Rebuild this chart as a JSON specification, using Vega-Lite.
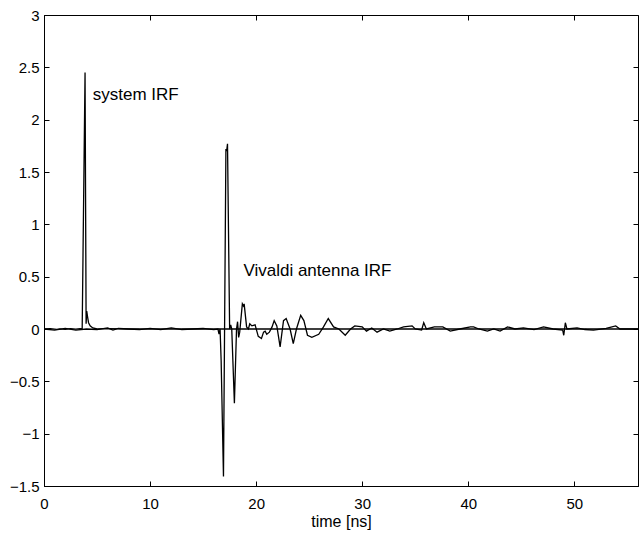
{
  "$schema": "https://vega.github.io/schema/vega-lite/v6.json",
  "autosize": "none",
  "width": 594,
  "height": 471,
  "padding": {"left": 44, "top": 15, "right": 1, "bottom": 49},
  "background": "white",
  "config": {
    "view": {"stroke": "black", "strokeWidth": 1},
    "font": "Liberation Sans",
    "axis": {
      "grid": false,
      "domainColor": "black",
      "tickColor": "black",
      "tickSize": -5,
      "labelColor": "black",
      "labelFont": "Liberation Sans",
      "labelFontSize": 15,
      "labelFlush": false,
      "titleFont": "Liberation Sans",
      "titleFontSize": 16,
      "titleFontWeight": "normal",
      "titleColor": "black",
      "format": "~f"
    }
  },
  "datasets": {
    "irf": [
      {"t": 0, "v": 0, "s": "system"},
      {"t": 0.6, "v": 0.003, "s": "system"},
      {"t": 1.2, "v": -0.004, "s": "system"},
      {"t": 1.5, "v": 0.002, "s": "system"},
      {"t": 2.0, "v": -0.003, "s": "system"},
      {"t": 2.5, "v": 0.004, "s": "system"},
      {"t": 3.0, "v": -0.002, "s": "system"},
      {"t": 3.4, "v": 0.003, "s": "system"},
      {"t": 3.6, "v": 0.0, "s": "system"},
      {"t": 3.87, "v": 2.45, "s": "system"},
      {"t": 3.97, "v": 0.05, "s": "system"},
      {"t": 4.03, "v": 0.17, "s": "system"},
      {"t": 4.1, "v": 0.12, "s": "system"},
      {"t": 4.2, "v": 0.06, "s": "system"},
      {"t": 4.35, "v": 0.03, "s": "system"},
      {"t": 4.6, "v": 0.01, "s": "system"},
      {"t": 5.0, "v": 0.0, "s": "system"},
      {"t": 6.0, "v": 0.004, "s": "system"},
      {"t": 8.0, "v": 0.0, "s": "system"},
      {"t": 10.0, "v": 0.0, "s": "system"},
      {"t": 20.0, "v": 0.0, "s": "system"},
      {"t": 30.0, "v": 0.0, "s": "system"},
      {"t": 40.0, "v": 0.0, "s": "system"},
      {"t": 50.0, "v": 0.0, "s": "system"},
      {"t": 56.0, "v": 0.0, "s": "system"},
      {"t": 0, "v": 0, "s": "vivaldi"},
      {"t": 1, "v": -0.01, "s": "vivaldi"},
      {"t": 2, "v": 0.005, "s": "vivaldi"},
      {"t": 3, "v": -0.01, "s": "vivaldi"},
      {"t": 4, "v": 0.0, "s": "vivaldi"},
      {"t": 5, "v": -0.005, "s": "vivaldi"},
      {"t": 6, "v": 0.01, "s": "vivaldi"},
      {"t": 6.5, "v": -0.01, "s": "vivaldi"},
      {"t": 7, "v": 0.005, "s": "vivaldi"},
      {"t": 8, "v": 0, "s": "vivaldi"},
      {"t": 9, "v": -0.005, "s": "vivaldi"},
      {"t": 10, "v": 0.005, "s": "vivaldi"},
      {"t": 11, "v": -0.005, "s": "vivaldi"},
      {"t": 12, "v": 0.01, "s": "vivaldi"},
      {"t": 13, "v": -0.005, "s": "vivaldi"},
      {"t": 14, "v": 0, "s": "vivaldi"},
      {"t": 15, "v": 0.005, "s": "vivaldi"},
      {"t": 16, "v": -0.005, "s": "vivaldi"},
      {"t": 16.4, "v": 0, "s": "vivaldi"},
      {"t": 16.5, "v": -0.05, "s": "vivaldi"},
      {"t": 16.6, "v": 0.0, "s": "vivaldi"},
      {"t": 16.7, "v": -0.3, "s": "vivaldi"},
      {"t": 16.92, "v": -1.41, "s": "vivaldi"},
      {"t": 17.15, "v": 1.72, "s": "vivaldi"},
      {"t": 17.22, "v": 1.7, "s": "vivaldi"},
      {"t": 17.3, "v": 1.77, "s": "vivaldi"},
      {"t": 17.5, "v": 0.0, "s": "vivaldi"},
      {"t": 17.6, "v": 0.04, "s": "vivaldi"},
      {"t": 17.7, "v": 0.0, "s": "vivaldi"},
      {"t": 17.95, "v": -0.71, "s": "vivaldi"},
      {"t": 18.15, "v": 0.0, "s": "vivaldi"},
      {"t": 18.25, "v": 0.07, "s": "vivaldi"},
      {"t": 18.35, "v": -0.08, "s": "vivaldi"},
      {"t": 18.45, "v": -0.03, "s": "vivaldi"},
      {"t": 18.7, "v": 0.24, "s": "vivaldi"},
      {"t": 18.8, "v": 0.22, "s": "vivaldi"},
      {"t": 18.87, "v": 0.24, "s": "vivaldi"},
      {"t": 19.1, "v": 0.02, "s": "vivaldi"},
      {"t": 19.27, "v": 0.0, "s": "vivaldi"},
      {"t": 19.4, "v": 0.05, "s": "vivaldi"},
      {"t": 19.6, "v": 0.03, "s": "vivaldi"},
      {"t": 19.9, "v": 0.04, "s": "vivaldi"},
      {"t": 20.2, "v": -0.07, "s": "vivaldi"},
      {"t": 20.5, "v": -0.09, "s": "vivaldi"},
      {"t": 20.7, "v": -0.03, "s": "vivaldi"},
      {"t": 20.85, "v": -0.02, "s": "vivaldi"},
      {"t": 21.0, "v": -0.05, "s": "vivaldi"},
      {"t": 21.25, "v": -0.03, "s": "vivaldi"},
      {"t": 21.5, "v": 0.02, "s": "vivaldi"},
      {"t": 21.7, "v": 0.08, "s": "vivaldi"},
      {"t": 21.95, "v": 0.03, "s": "vivaldi"},
      {"t": 22.26, "v": -0.17, "s": "vivaldi"},
      {"t": 22.58, "v": 0.08, "s": "vivaldi"},
      {"t": 22.83, "v": 0.1, "s": "vivaldi"},
      {"t": 23.2, "v": 0.0, "s": "vivaldi"},
      {"t": 23.5, "v": -0.14, "s": "vivaldi"},
      {"t": 23.8, "v": 0.0, "s": "vivaldi"},
      {"t": 24.2, "v": 0.13, "s": "vivaldi"},
      {"t": 24.5, "v": 0.08, "s": "vivaldi"},
      {"t": 24.84, "v": -0.06, "s": "vivaldi"},
      {"t": 25.25, "v": -0.08, "s": "vivaldi"},
      {"t": 25.9, "v": -0.05, "s": "vivaldi"},
      {"t": 26.35, "v": 0.02, "s": "vivaldi"},
      {"t": 26.8, "v": 0.1, "s": "vivaldi"},
      {"t": 27.3, "v": 0.02, "s": "vivaldi"},
      {"t": 27.8, "v": 0.0, "s": "vivaldi"},
      {"t": 28.4, "v": -0.06, "s": "vivaldi"},
      {"t": 28.9, "v": 0.0, "s": "vivaldi"},
      {"t": 29.3, "v": 0.03, "s": "vivaldi"},
      {"t": 30, "v": 0.02, "s": "vivaldi"},
      {"t": 30.4, "v": -0.02, "s": "vivaldi"},
      {"t": 30.9, "v": 0.01, "s": "vivaldi"},
      {"t": 31.4, "v": -0.03, "s": "vivaldi"},
      {"t": 32, "v": 0, "s": "vivaldi"},
      {"t": 32.6, "v": -0.02, "s": "vivaldi"},
      {"t": 33.3, "v": 0, "s": "vivaldi"},
      {"t": 33.9, "v": 0.02, "s": "vivaldi"},
      {"t": 34.7, "v": 0.03, "s": "vivaldi"},
      {"t": 35, "v": 0, "s": "vivaldi"},
      {"t": 35.6, "v": -0.01, "s": "vivaldi"},
      {"t": 35.8, "v": 0.06, "s": "vivaldi"},
      {"t": 36.05, "v": 0, "s": "vivaldi"},
      {"t": 36.8, "v": 0.02, "s": "vivaldi"},
      {"t": 37.6, "v": 0.02, "s": "vivaldi"},
      {"t": 38.3, "v": -0.02, "s": "vivaldi"},
      {"t": 39.2, "v": 0.0, "s": "vivaldi"},
      {"t": 40.2, "v": 0.02, "s": "vivaldi"},
      {"t": 40.5, "v": 0.02, "s": "vivaldi"},
      {"t": 41.0, "v": 0.0, "s": "vivaldi"},
      {"t": 41.8, "v": -0.02, "s": "vivaldi"},
      {"t": 42.4, "v": 0.0, "s": "vivaldi"},
      {"t": 43.0, "v": -0.02, "s": "vivaldi"},
      {"t": 43.7, "v": 0.02, "s": "vivaldi"},
      {"t": 44.4, "v": 0.0, "s": "vivaldi"},
      {"t": 45.2, "v": 0.01, "s": "vivaldi"},
      {"t": 46.2, "v": -0.005, "s": "vivaldi"},
      {"t": 47.1, "v": 0.02, "s": "vivaldi"},
      {"t": 48, "v": 0.0, "s": "vivaldi"},
      {"t": 48.9, "v": -0.01, "s": "vivaldi"},
      {"t": 49.0, "v": -0.06, "s": "vivaldi"},
      {"t": 49.15, "v": 0.06, "s": "vivaldi"},
      {"t": 49.3, "v": 0.0, "s": "vivaldi"},
      {"t": 50.25, "v": 0.01, "s": "vivaldi"},
      {"t": 51, "v": -0.005, "s": "vivaldi"},
      {"t": 51.8, "v": -0.01, "s": "vivaldi"},
      {"t": 53, "v": 0.005, "s": "vivaldi"},
      {"t": 53.9, "v": 0.03, "s": "vivaldi"},
      {"t": 54.3, "v": 0, "s": "vivaldi"},
      {"t": 55, "v": 0.0, "s": "vivaldi"},
      {"t": 56, "v": 0, "s": "vivaldi"}
    ],
    "labels": [
      {"t": 4.6, "v": 2.24, "label": "system IRF"},
      {"t": 18.8, "v": 0.55, "label": "Vivaldi antenna IRF"}
    ]
  },
  "layer": [
    {
      "data": {"name": "irf"},
      "mark": {"type": "line", "strokeWidth": 1.3, "clip": true},
      "encoding": {
        "x": {"field": "t", "type": "quantitative", "scale": {"domain": [0, 56], "nice": false, "zero": false},
              "axis": {"orient": "bottom", "title": "time [ns]", "values": [0, 10, 20, 30, 40, 50], "labelPadding": 15, "titlePadding": 2}},
        "y": {"field": "v", "type": "quantitative", "scale": {"domain": [-1.5, 3], "nice": false, "zero": false},
              "axis": {"orient": "left", "title": null, "values": [-1.5, -1, -0.5, 0, 0.5, 1, 1.5, 2, 2.5, 3], "labelPadding": 10}},
        "detail": {"field": "s"},
        "color": {"value": "black"}
      }
    },
    {
      "data": {"name": "labels"},
      "mark": {"type": "text", "align": "left", "baseline": "middle", "font": "Liberation Sans", "fontSize": 17, "color": "black"},
      "encoding": {
        "x": {"field": "t", "type": "quantitative", "axis": {"orient": "top", "title": null, "labels": false, "domain": false, "values": [0, 10, 20, 30, 40, 50]}},
        "y": {"field": "v", "type": "quantitative", "axis": {"orient": "right", "title": null, "labels": false, "domain": false, "values": [-1.5, -1, -0.5, 0, 0.5, 1, 1.5, 2, 2.5, 3]}},
        "text": {"field": "label"}
      }
    }
  ],
  "resolve": {"axis": {"x": "independent", "y": "independent"}}
}
